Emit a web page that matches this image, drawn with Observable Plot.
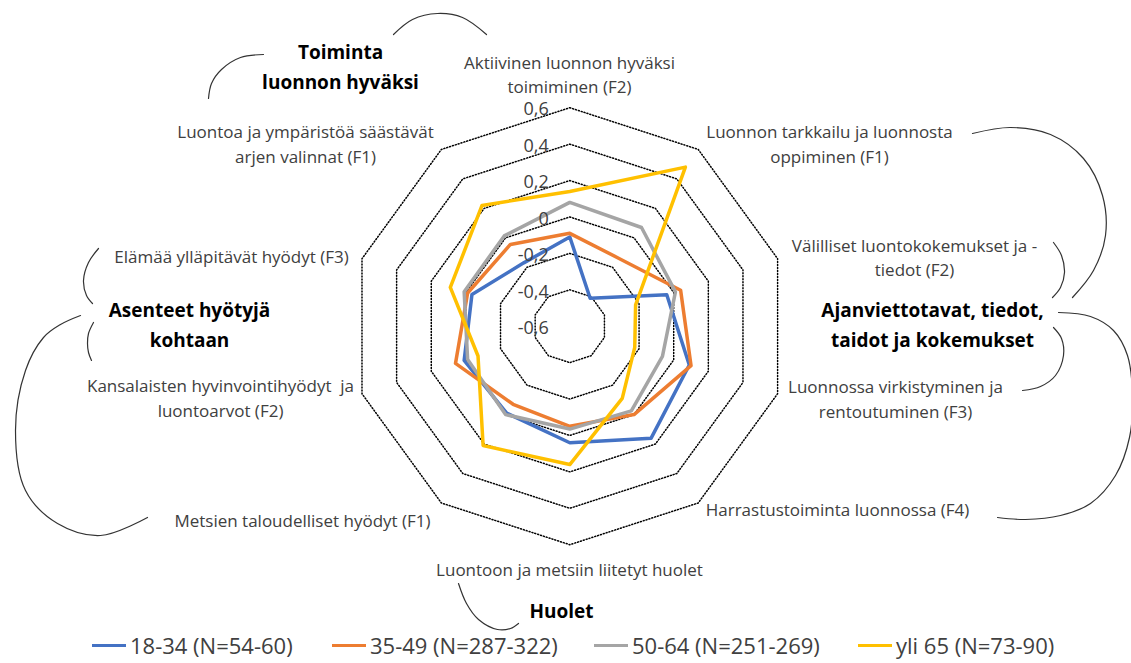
<!DOCTYPE html>
<html>
<head>
<meta charset="utf-8">
<script src="https://cdn.jsdelivr.net/npm/d3@7"></script>
<script src="https://cdn.jsdelivr.net/npm/@observablehq/plot@0.6"></script>
<style>
  html, body { margin: 0; padding: 0; background: #fff; overflow: hidden; }
  #chart { width: 1131px; height: 628px; }
  #legend { position: relative; width: 1131px; height: 35px; font-family: "Open Sans", sans-serif; font-size: 22px; color: #404040; }
  .item { position: absolute; top: 2px; height: 30px; line-height: 30px; white-space: nowrap; display: flex; align-items: center; }
  .swatch { display: inline-block; width: 34px; height: 3px; margin-right: 4px; }
</style>
</head>
<body>
<div id="chart"></div>
<div id="legend"></div>
<script>
// ---------- data ----------
const axes = [
  "Aktiivinen luonnon hyväksi\ntoimiminen (F2)",
  "Luonnon tarkkailu ja luonnosta\noppiminen (F1)",
  "Välilliset luontokokemukset ja -\ntiedot (F2)",
  "Luonnossa virkistyminen ja\nrentoutuminen (F3)",
  "Harrastustoiminta luonnossa (F4)",
  "Luontoon ja metsiin liitetyt huolet",
  "Metsien taloudelliset hyödyt (F1)",
  "Kansalaisten hyvinvointihyödyt  ja\nluontoarvot (F2)",
  "Elämää ylläpitävät hyödyt (F3)",
  "Luontoa ja ympäristöä säästävät\narjen valinnat (F1)"
];
const series = ["18-34 (N=54-60)", "35-49 (N=287-322)", "50-64 (N=251-269)", "yli 65 (N=73-90)"];
const values18_34 = [-0.11, -0.41, -0.04, 0.09, 0.16, 0.04, -0.01, 0.01, -0.035, -0.17];
const values35_49 = [-0.09, -0.14, 0.04, 0.10, 0.00, -0.05, -0.07, 0.06, -0.01, -0.045];
const values50_64 = [0.08, 0.07, 0.01, -0.065, -0.025, -0.035, 0.00, -0.01, 0.01, 0.013];
const valuesYli65 = [0.14, 0.48, -0.22, -0.225, -0.11, 0.16, 0.21, -0.07, 0.09, 0.22];
const ticks = [-0.6, -0.4, -0.2, 0, 0.2, 0.4, 0.6];
const tickLabels = ["-0,6", "-0,4", "-0,2", "0", "0,2", "0,4", "0,6"];
const groups = ["Toiminta\nluonnon hyväksi", "Asenteet hyötyjä\nkohtaan", "Ajanviettotavat, tiedot,\ntaidot ja kokemukset", "Huolet"];
const colors = ["#4472C4", "#ED7D31", "#A5A5A5", "#FFC000"];

// ---------- layout ----------
const W = 1131, H = 628;
const cx = 569.3, cy = 325.7, R = 218.5;
const vmin = ticks[0], vmax = ticks[ticks.length - 1];
const span = vmax - vmin;
const px2x = px => (px - cx) / R * span;
const py2y = py => (cy - py) / R * span;
const ang = i => i * 2 * Math.PI / axes.length;
const polar = (v, i) => ({x: (v - vmin) * Math.sin(ang(i)), y: (v - vmin) * Math.cos(ang(i))});

const allValues = [values18_34, values35_49, values50_64, valuesYli65];
const seriesPts = series.flatMap((s, k) => allValues[k].map((v, i) => ({series: s, axis: axes[i], ...polar(v, i)})));
const ringPts = ticks.slice(1).flatMap(t => axes.map((a, i) => ({ring: t, ...polar(t, i)})));
const tickPts = ticks.map((t, j) => ({label: tickLabels[j], ...polar(t, 0)}));

// label placement (pixel centres)
const axisLabelPos = [[569, 72.5], [829, 142], [914, 255.5], [895, 397], [837, 508], [569, 568], [302, 519], [220, 396], [231, 255], [305, 142]];
const axisLabels = axes.map((a, i) => ({text: a, x: px2x(axisLabelPos[i][0]), y: py2y(axisLabelPos[i][1])}));
const groupPos = [[340, 63.5], [189, 321.5], [932, 321.7], [561, 608]];
const groupLabels = groups.map((g, i) => ({text: g, x: px2x(groupPos[i][0]), y: py2y(groupPos[i][1])}));

// decorative braces (pixel paths)
const braces = [
  [[393,34],[412,19],[437,13],[462,17],[486,34]],
  [[263,54],[240,57],[221,69],[211,83],[208,98]],
  [[972,133],[1010,127],[1050,134],[1083,158],[1102,195],[1105,235],[1093,270],[1072,297]],
  [[1053,242],[1061,255],[1064,272],[1060,287],[1052,297]],
  [[1058,312],[1090,316],[1113,330],[1127,355],[1132,395],[1129,437],[1115,475],[1090,503],[1060,515],[1025,519],[997,517]],
  [[1053,327],[1061,338],[1063,355],[1055,375],[1040,386],[1022,390]],
  [[98,248],[88,262],[83,280],[86,295],[92,303]],
  [[93,322],[88,333],[87,343],[88,352],[91,360]],
  [[80,315],[60,324],[43,337],[25,370],[15,430],[25,490],[57,523],[100,535],[147,517]],
  [[458,583],[466,603],[478,619],[497,629],[510,628],[518,623]]
];
const bracePts = braces.flatMap((b, k) => b.map(([px, py]) => ({id: k, x: px2x(px), y: py2y(py)})));

const chart = Plot.plot({
  width: W, height: H,
  marginTop: 0, marginRight: 0, marginBottom: 0, marginLeft: 0,
  style: {fontFamily: "'Open Sans', sans-serif", background: "#fff", overflow: "visible"},
  x: {domain: [-span, span], range: [cx - R, cx + R], axis: null},
  y: {domain: [-span, span], range: [cy + R, cy - R], axis: null},
  color: {domain: series, range: colors},
  marks: [
    Plot.line(ringPts, {x: "x", y: "y", z: "ring", curve: "linear-closed", stroke: "#000", strokeWidth: 1.5, strokeDasharray: "1,2"}),
    Plot.line(seriesPts, {x: "x", y: "y", z: "series", stroke: "series", curve: "linear-closed", strokeWidth: 3.5, strokeLinejoin: "round"}),
    Plot.text(tickPts, {x: "x", y: "y", text: "label", textAnchor: "end", dx: -21, dy: 2, fontSize: 18, fill: "#404040"}),
    Plot.text(axisLabels, {x: "x", y: "y", text: "text", textAnchor: "middle", fontSize: 17, lineHeight: 1.44, fill: "#404040"}),
    Plot.text(groupLabels, {x: "x", y: "y", text: "text", textAnchor: "middle", fontSize: 19, fontWeight: "bold", lineHeight: 1.6, fill: "#000"}),
    Plot.line(bracePts, {x: "x", y: "y", z: "id", curve: "catmull-rom", stroke: "#333", strokeWidth: 1.2})
  ]
});
document.getElementById("chart").appendChild(chart);

// legend
const legendX = [92, 332, 594, 858];
const legend = document.getElementById("legend");
series.forEach((s, k) => {
  const item = document.createElement("div");
  item.className = "item";
  item.style.left = legendX[k] + "px";
  const sw = document.createElement("span");
  sw.className = "swatch";
  sw.style.background = colors[k];
  item.appendChild(sw);
  item.appendChild(document.createTextNode(s));
  legend.appendChild(item);
});
</script>
</body>
</html>
